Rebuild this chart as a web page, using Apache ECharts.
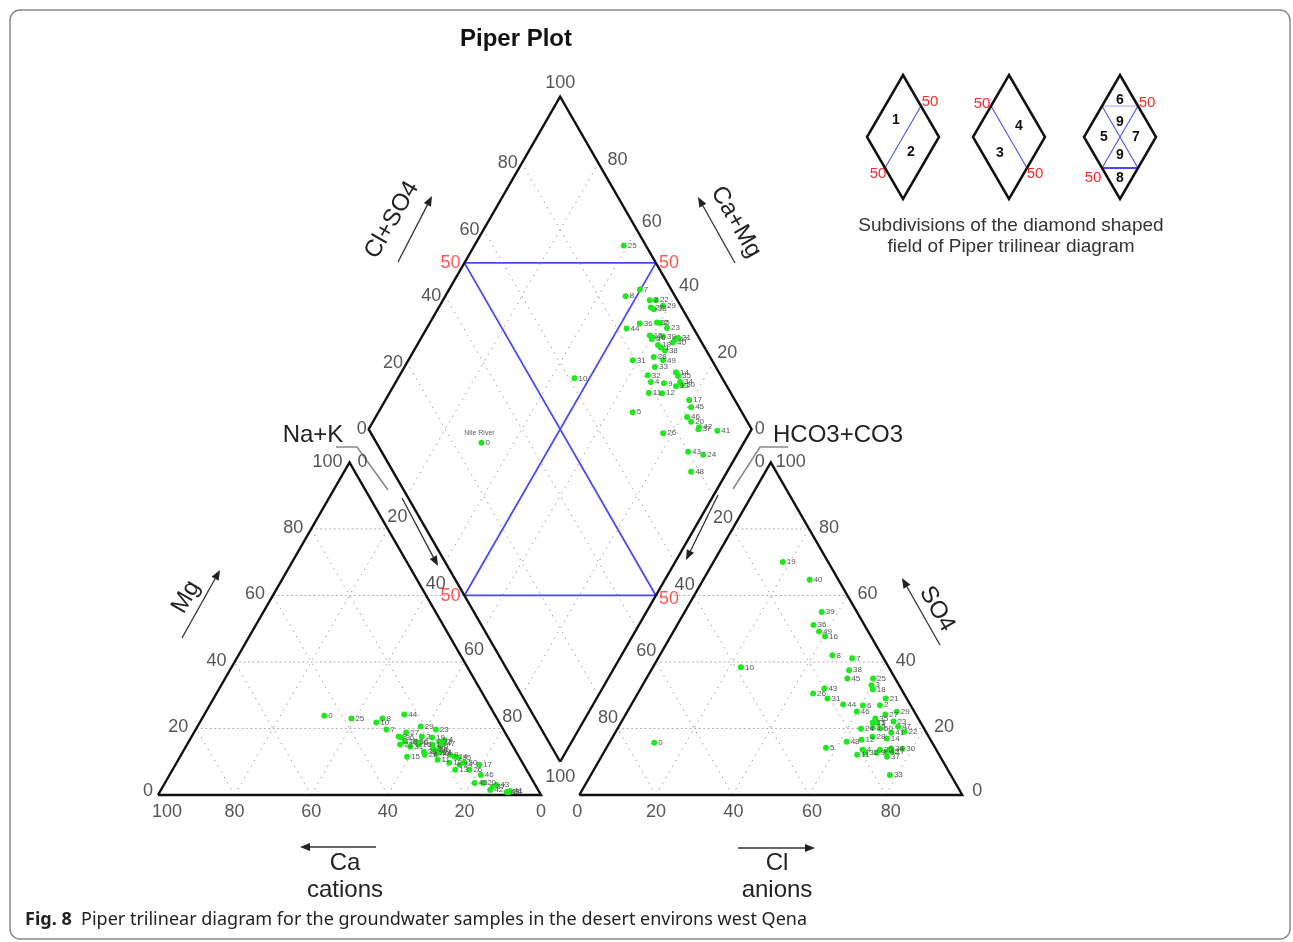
<!DOCTYPE html>
<html><head><meta charset="utf-8">
<script src="https://cdn.jsdelivr.net/npm/echarts@6/dist/echarts.min.js"></script>
<style>html,body{margin:0;padding:0;background:#fff;}#c{width:1293px;height:942px;}</style>
</head><body><div id="c"></div>
<script>
// ---------------- DATA ----------------
const sampleIds = [25,7,8,3,22,29,27,18,36,44,30,2,23,15,16,39,47,21,40,6,19,1,38,31,28,49,33,14,35,32,34,50,4,9,13,11,12,17,45,5,46,20,42,37,26,41,43,24,48,10,0];
const caPct  = [38.0,30.5,29.9,28.4,29.2,21.1,25.8,27.5,27.8,23.6,24.7,22.3,17.6,29.2,24.4,24.1,18.0,20.1,21.1,23.8,19.8,20.8,21.0,26.9,24.3,20.5,18.6,16.8,16.0,21.2,16.7,15.1,16.9,17.7,18.6,21.7,19.1,11.6,15.5,19.1,12.7,13.3,12.5,11.5,14.9,7.5,10.2,7.9,8.5,32.1,44.7];
const mgPct  = [23.0,19.7,23.0,17.6,15.2,20.6,18.8,16.1,17.3,24.2,16.1,17.6,19.7,11.5,15.2,13.0,15.5,12.8,12.5,15.8,17.3,15.2,13.5,14.5,12.1,13.0,16.0,11.5,11.2,14.0,9.1,9.7,16.5,12.1,7.6,10.6,9.7,9.1,3.6,14.5,6.0,3.6,1.5,2.4,7.6,1.2,3.0,0.9,0.9,21.8,23.8];
const clPct  = [59.2,50.7,45.1,59.8,75.4,70.4,67.8,60.8,35.6,55.3,77.4,65.0,71.0,65.7,40.3,35.8,73.0,65.5,27.8,60.6,18.1,66.8,51.7,50.3,67.8,38.0,78.1,71.8,65.8,68.3,74.4,68.5,67.2,71.3,66.5,66.5,65.4,75.1,52.5,57.3,59.9,71.7,73.6,74.6,45.8,72.1,48.0,63.6,61.8,23.0,11.7];
const so4Pct = [35.0,41.1,42.0,33.0,19.0,25.0,24.2,31.7,51.1,27.2,13.9,27.0,22.1,21.8,47.7,55.0,20.5,29.0,64.7,26.9,70.1,21.8,37.5,29.0,17.5,49.2,6.0,17.0,23.0,12.7,14.0,20.0,13.6,12.7,20.2,12.1,16.6,13.0,35.0,14.2,25.1,13.6,13.0,11.5,30.5,18.7,32.0,19.9,16.0,38.4,15.7];
const nileId = 0;
const tickVals = [0,20,40,60,80,100];
const gridVals = [20,40,60,80];
const redVal = '50';

// ---------------- GEOMETRY ----------------
const X0=158, Y0=795, PX=3.83, PY=3.84, CW=1293, CH=942;
const R3=Math.sqrt(3)/2, OFF=110, DB=[105, 5*Math.sqrt(3)];
function cat(ca,mg){const nak=100-ca-mg;return [nak+0.5*mg, R3*mg];}
function ani(cl,so4){return [OFF+cl+0.5*so4, R3*so4];}
function dia(camg,clso4){return [DB[0]+0.5*(clso4-camg), DB[1]+R3*(clso4+camg)];}
function lerp(a,b,f){return [a[0]+(b[0]-a[0])*f, a[1]+(b[1]-a[1])*f];}

const outlines = [
  [cat(100,0),cat(0,0),cat(0,100),cat(100,0)],
  [ani(0,0),ani(100,0),ani(0,100),ani(0,0)],
  [dia(0,0),dia(0,100),dia(100,100),dia(100,0),dia(0,0)]
];
const hGrid=[], dGrid=[];
gridVals.forEach(c=>{
  hGrid.push([cat(100-c,c),cat(0,c)]);
  hGrid.push([ani(0,c),ani(100-c,c)]);
  dGrid.push([cat(100-c,0),cat(0,100-c)]);
  dGrid.push([cat(c,0),cat(c,100-c)]);
  dGrid.push([ani(c,0),ani(c,100-c)]);
  dGrid.push([ani(100-c,0),ani(0,100-c)]);
  dGrid.push([dia(c,0),dia(c,100)]);
  dGrid.push([dia(0,c),dia(100,c)]);
});
hGrid.push([cat(0,60),dia(50,0)]);
hGrid.push([ani(0,60),dia(0,50)]);
const blue = [
  [dia(100,50),dia(50,100)],[dia(50,0),dia(0,50)],
  [dia(100,50),dia(0,50)],[dia(50,100),dia(50,0)]
];

const ticks=[];
function tk(p,txt,align,off,color){ticks.push({value:p,label:Object.assign({formatter:String(txt),align:align,offset:off},color?{color:color}:{})});}
tickVals.forEach(v=>{
  tk([0.5*v,R3*v],v,'right',v===0?[-5,-4]:(v===100?[-7,0]:[-8,-1]));
  tk([100-v,0],v,'center',v===100?[9,17]:[0,17]);
  tk([OFF+100-0.5*v,R3*v],v,'left',v===0?[10,-4]:(v===100?[5,0]:[10,-1]));
  if(v<100){
    tk([OFF+v,0],v,'center',[Math.round(v/12)-2,17]);
    tk(dia(100,v),v,'right',v===0?[-2,0]:[-4,0]);
  }
});
const cmOff={0:[3,0],20:[4,-10],40:[4,-10],60:[5,-8],80:[9,-3]};
[0,20,40,60,80].forEach(v=>tk(dia(v,100),v,'left',cmOff[v]));
tk(dia(100,100),100,'center',[0,-14]);
const gL0=[52.5,90.93], gL1=[102.5,4.33], gR0=[157.5,90.93], gR1=[107.5,4.33];
gridVals.forEach(v=>{
  tk(lerp(gL0,gL1,v/100),v,'center',[0,5]);
  tk(lerp(gR0,gR1,v/100),v,'center',[0,6]);
});
tk(cat(0,100),0,'left',[8,0]);
tk(ani(0,100),0,'right',[-6,0]);
tk(dia(0,0),100,'center',[0,15]);
const RED='#ff2a2a';
tk(dia(100,50),redVal,'right',[-4,0],RED);
tk(dia(50,100),redVal,'left',[3,0],RED);
tk(dia(50,0),redVal,'right',[-4,1],RED);
tk(dia(0,50),redVal,'left',[3,4],RED);

const cPts=[],aPts=[],dPts=[];
sampleIds.forEach((id,i)=>{
  const ca=caPct[i],mg=mgPct[i],cl=clPct[i],so=so4Pct[i];
  cPts.push({value:cat(ca,mg),name:String(id)});
  aPts.push({value:ani(cl,so),name:String(id)});
  dPts.push({value:dia(ca+mg,cl+so),name:String(id)});
});
const nileIdx = sampleIds.indexOf(nileId);
const nileLbl = [{value:dPts[nileIdx].value,label:{formatter:'Nile River',offset:[-2,-10],fontSize:7,color:'#333'}}];

// ---------------- CHART ----------------
const chart = echarts.init(document.getElementById('c'));
const FONT='Liberation Sans';
function lineSeries(data,style,z){
  return {type:'lines',coordinateSystem:'cartesian2d',polyline:true,silent:true,z:z,
    data:data.map(c=>({coords:c})),lineStyle:style,effect:{show:false}};
}
function ptSeries(data){
  return {type:'scatter',data:data,symbolSize:6,z:10,silent:true,
    itemStyle:{color:'#1fe81f',opacity:1},
    label:{show:true,position:'right',distance:1,formatter:'{b}',fontSize:8,color:'#555',fontFamily:FONT}};
}
function arrow(x1,y1,x2,y2){
  const a=Math.atan2(y2-y1,x2-x1),L=10,Wd=4;
  const bx=x2-L*Math.cos(a),by=y2-L*Math.sin(a);
  return [{type:'line',shape:{x1:x1,y1:y1,x2:bx,y2:by},style:{stroke:'#333',lineWidth:1.3}},
    {type:'polygon',shape:{points:[[x2,y2],[bx+Wd*Math.sin(a),by-Wd*Math.cos(a)],[bx-Wd*Math.sin(a),by+Wd*Math.cos(a)]]},style:{fill:'#222'}}];
}
function txt(x,y,t,size,opt){
  return Object.assign({type:'text',x:x,y:y,style:{text:t,font:(opt&&opt.weight||'normal')+' '+size+'px "'+(opt&&opt.family||FONT)+'"',fill:(opt&&opt.fill)||'#222',align:(opt&&opt.align)||'center',verticalAlign:'middle'}},opt&&opt.rot!==undefined?{rotation:opt.rot}:{});
}
const G=[];
G.push({type:'rect',shape:{x:10,y:10,width:1280,height:929,r:10},style:{fill:'none',stroke:'#8a8a8a',lineWidth:1.5}});
G.push(txt(516,39,'Piper Plot',24,{weight:'bold',fill:'#111'}));
G.push(txt(392,220,'Cl+SO4',24,{rot:Math.PI/3}));
G.push(...arrow(398,262,432,196));
G.push(txt(736,222,'Ca+Mg',24,{rot:-Math.PI/3}));
G.push(...arrow(735,263,698,197));
G.push(txt(186,597,'Mg',24,{rot:Math.PI/3}));
G.push(...arrow(182,638,220,570));
G.push(txt(937,609,'SO4',24,{rot:-Math.PI/3}));
G.push(...arrow(940,645,902,578));
G.push(txt(313,435,'Na+K',24));
G.push({type:'polyline',shape:{points:[[336,447],[357,447],[388,490]]},style:{stroke:'#888',lineWidth:1.5,fill:'none'}});
G.push(...arrow(402,498,438,566));
G.push(txt(838,435,'HCO3+CO3',24));
G.push({type:'polyline',shape:{points:[[788,447],[760,447],[733,489]]},style:{stroke:'#888',lineWidth:1.5,fill:'none'}});
G.push(...arrow(718,495,686,560));
G.push(...arrow(376,847,300,847));
G.push(txt(345,863,'Ca',24));
G.push(txt(345,890,'cations',24));
G.push(...arrow(738,848,815,848));
G.push(txt(777,863,'Cl',24));
G.push(txt(777,890,'anions',24));
G.push({type:'text',x:25,y:920,style:{rich:{b:{font:'bold 18px "Noto Sans"',fill:'#222'},n:{font:'18px "Noto Sans"',fill:'#222'}},text:'{b|Fig. 8}{n|  Piper trilinear diagram for the groundwater samples in the desert environs west Qena}',verticalAlign:'middle',align:'left'}});
const insets=[903,1009,1120], icy=137, hw=36, hh=62;
insets.forEach((cx,k)=>{
  G.push({type:'polygon',shape:{points:[[cx,icy-hh],[cx+hw,icy],[cx,icy+hh],[cx-hw,icy]]},style:{fill:'none',stroke:'#111',lineWidth:2.5},z:5});
  const bl={stroke:'#5a5af0',lineWidth:1.2};
  const UL=[cx-hw/2,icy-hh/2],UR=[cx+hw/2,icy-hh/2],LL=[cx-hw/2,icy+hh/2],LR=[cx+hw/2,icy+hh/2];
  const ln=(p,q,s)=>G.push({type:'line',shape:{x1:p[0],y1:p[1],x2:q[0],y2:q[1]},style:s||bl,z:4});
  const rt=(x,y,t)=>G.push(txt(x,y,t,15,{fill:RED}));
  const nt=(x,y,t)=>G.push(txt(x,y,t,14,{fill:'#111',weight:'bold'}));
  if(k===0){ln(LL,UR);rt(cx+27,icy-35,'50');rt(cx-25,icy+37,'50');nt(cx-7,icy-17,'1');nt(cx+8,icy+15,'2');}
  if(k===1){ln(UL,LR);rt(cx-27,icy-33,'50');rt(cx+26,icy+37,'50');nt(cx+10,icy-11,'4');nt(cx-9,icy+16,'3');}
  if(k===2){ln(UL,UR,{stroke:'#a8a8f4',lineWidth:1});ln(LL,LR,{stroke:'#4a4af0',lineWidth:2});ln(UL,LR);ln(UR,LL);
    rt(cx+27,icy-34,'50');rt(cx-27,icy+41,'50');
    nt(cx,icy-37,'6');nt(cx,icy-15,'9');nt(cx-16,icy,'5');nt(cx+16,icy,'7');nt(cx,icy+18,'9');nt(cx,icy+41,'8');}
});
G.push(txt(1011,226,'Subdivisions of the diamond shaped',19,{fill:'#333'}));
G.push(txt(1011,247,'field of Piper trilinear diagram',19,{fill:'#333'}));

chart.setOption({
  animation:false,
  backgroundColor:'#fff',
  grid:{left:0,right:0,top:0,bottom:0,containLabel:false},
  xAxis:{type:'value',min:-X0/PX,max:(CW-X0)/PX,show:false},
  yAxis:{type:'value',min:-(CH-Y0)/PY,max:Y0/PY,show:false},
  series:[
    lineSeries(dGrid,{color:'#9a9a9a',width:1,type:[1.5,5],opacity:1},1),
    lineSeries(hGrid,{color:'#b0b0b0',width:1,type:[2,2.5],opacity:1},1),
    lineSeries(blue,{color:'#4a4af0',width:1.8,opacity:1},3),
    lineSeries(outlines,{color:'#111',width:2.4,opacity:1},4),
    {type:'scatter',data:ticks,symbolSize:0,silent:true,z:6,
      label:{show:true,position:'inside',verticalAlign:'middle',fontSize:18,color:'#2a2a2a',fontFamily:FONT}},
    {type:'scatter',data:nileLbl,symbolSize:0,silent:true,z:6,label:{show:true,position:'inside',fontFamily:FONT}},
    ptSeries(cPts),ptSeries(aPts),ptSeries(dPts)
  ],
  graphic:G
});
</script></body></html>
